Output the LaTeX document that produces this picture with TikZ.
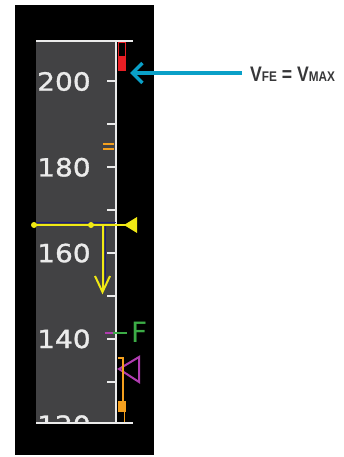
\documentclass[tikz,border=0pt]{standalone}
\usepackage{fontspec}
\setmainfont{DejaVu Sans}
\newfontfamily\tapefont[FakeBold=1.2]{DejaVu Sans}
\newfontfamily\lblfont{Liberation Sans}
\usetikzlibrary{arrows.meta}
\definecolor{tapegray}{RGB}{66,66,68}
\definecolor{tapewhite}{RGB}{235,235,235}
\definecolor{pfdyellow}{RGB}{240,232,20}
\definecolor{pfdnavy}{RGB}{30,30,120}
\definecolor{pfdgreen}{RGB}{60,172,70}
\definecolor{pfdmagenta}{RGB}{176,60,176}
\definecolor{pfdorange}{RGB}{244,160,30}
\definecolor{pfdred}{RGB}{232,30,36}
\definecolor{callcyan}{RGB}{10,160,200}
\definecolor{lbltext}{RGB}{55,55,57}
\tikzset{
  speedlbl/.style={anchor=west, inner sep=0pt, text=tapewhite, xscale=1.12,
    font=\tapefont\fontsize{25}{25}\selectfont},
  tapeline/.style={draw=tapewhite, line width=2pt},
  tick/.style={draw=tapewhite, line width=2pt},
}
\begin{document}
\begin{tikzpicture}[x=1pt,y=-1pt]
\useasboundingbox (0,0) rectangle (344,457);
\fill[white] (0,0) rectangle (344,457);
\fill[black] (15,5) rectangle (154,455);
\fill[tapegray] (36,41) rectangle (116,423);
% speed labels
\begin{scope}
\clip (36,41) rectangle (116,421);
\foreach \v/\y in {200/81.5,180/167.3,160/253.1,140/338.9,120/424.7}
  \node[speedlbl] (s\v) at (37,\y) {\v};
\end{scope}
% ticks
\foreach \y in {81.5,124.4,167.3,210.2,253.1,296,338.9,381.8}
  \draw[tick] (107,\y) -- (116,\y);
% tape frame lines
\draw[tapeline] (36,41) -- (133,41);
\draw[tapeline] (36,423) -- (133,423);
\draw[tapeline] (116,41) -- (116,423);
% red VMAX band
\draw[pfdred, line width=1.5pt] (118.5,42.5) rectangle (125.5,70);
\fill[pfdred] (118,56) rectangle (126,70.5);
% orange marks
\draw[pfdorange, line width=1.5pt] (103,144) -- (114,144);
\draw[pfdorange, line width=1.5pt] (103,149) -- (114,149);
% navy lines
\draw[pfdnavy, line width=1.5pt] (36,222.5) -- (116,222.5);
\draw[pfdnavy, line width=1.5pt] (105.5,225) -- (105.5,287);
% yellow speed reference
\draw[pfdyellow, line width=2.5pt] (34,225) -- (126,225);
\fill[pfdyellow] (34,225) circle (3);
\fill[pfdyellow] (91,225) circle (3);
\fill[pfdyellow] (124,225) -- (137,217) -- (137,233) -- cycle;
% yellow trend arrow
\draw[pfdyellow, line width=2pt] (102.5,225) -- (102.5,291);
\draw[pfdyellow, line width=2pt, line join=miter] (95,276) -- (102.5,292) -- (110,276);
% F marker
\draw[pfdmagenta, line width=2pt] (105,332.5) -- (113,332.5);
\draw[pfdgreen, line width=2pt] (113,332.5) -- (127,332.5);
\node[text=pfdgreen, inner sep=0pt, anchor=west, font=\fontsize{28}{28}\selectfont] (flbl) at (131,332.5) {F};
% magenta target triangle
\draw[pfdmagenta, line width=2pt, line join=miter] (119,369) -- (139,357) -- (139,382) -- cycle;
% orange lower band
\draw[pfdorange, line width=1.8pt] (118,358) -- (123,358) -- (123,402);
\fill[pfdorange] (118,401) rectangle (125.5,412);
\draw[pfdorange, line width=1.8pt] (124.5,412) -- (124.5,422);
% callout
\node[text=lbltext, inner sep=0pt, anchor=west, xscale=0.84,
  font=\lblfont\bfseries\fontsize{21}{21}\selectfont] (vfe) at (250,74.5)
  {V{\fontsize{14}{14}\selectfont FE} = V{\fontsize{14}{14}\selectfont MAX}};
\coordinate (tip) at (130,73);
\draw[callcyan, line width=3.5pt, -{Straight Barb[length=10pt,width=20pt]}] (242,73) -- (tip);
\end{tikzpicture}
\end{document}
